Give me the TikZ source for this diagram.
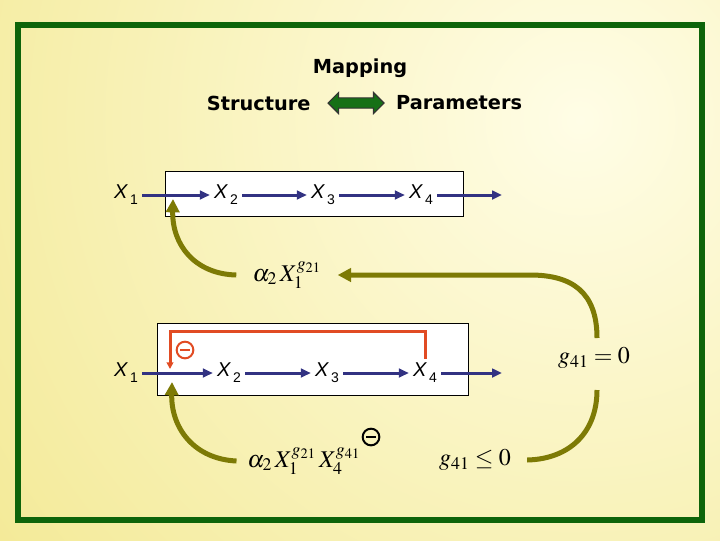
\documentclass[tikz,border=0pt]{standalone}
\usepackage{mathptmx}
\usepackage{fontspec}
\setmainfont{Liberation Serif}
\newfontfamily\headfont{DejaVu Sans}
\newfontfamily\varfont{Liberation Sans}
\usepackage{tikz}
\usetikzlibrary{arrows.meta}
\usetikzlibrary{shapes.arrows}
\usetikzlibrary{positioning}

\definecolor{bgyellow}{RGB}{243,233,148}
\definecolor{bgpale}{RGB}{255,253,230}
\definecolor{framegreen}{RGB}{14,100,10}
\definecolor{mapgreen}{RGB}{22,112,22}
\definecolor{flownavy}{RGB}{50,50,130}
\definecolor{fbolive}{RGB}{125,122,5}
\definecolor{negred}{RGB}{225,75,35}

\newcommand{\xvar}[1]{\textit{X}\kern1.5pt\raisebox{-0.3em}{\fontsize{10.5}{12}\selectfont #1}}

\begin{document}
\begin{tikzpicture}[x=0.75pt, y=-0.75pt,
    headtext/.style={font=\headfont\bfseries\fontsize{14.5}{17}\selectfont},
    varnode/.style={font=\varfont\fontsize{15}{17}\selectfont, inner sep=3pt},
    mlabel/.style={font=\fontsize{18}{20}\selectfont},
    negsign/.style={circle, draw=#1, line width=1.5pt, minimum size=12.5pt, inner sep=0pt,
        path picture={\draw[#1, line width=1.8pt]
            ([xshift=2.5pt]path picture bounding box.west) --
            ([xshift=-2.5pt]path picture bounding box.east);}},
    flow/.style={draw=flownavy, line width=2.25pt, -{Triangle[length=7.5pt,width=6.5pt]}},
    fb/.style={draw=fbolive, line width=3.75pt, -{Triangle[length=10pt,width=10pt]}},
    fbline/.style={draw=fbolive, line width=3.75pt},
    neg/.style={draw=negred, line width=2.25pt, -{Triangle[length=5pt,width=5pt]}}]
    % background and frame
    \useasboundingbox (0,0) rectangle (720,540);
    \begin{scope}
        \clip (0,0) rectangle (720,540);
        \fill[bgyellow] (0,0) rectangle (720,540);
        \shade[inner color=bgpale, outer color=bgyellow] (580,120) circle (760);
    \end{scope}
    \draw[framegreen, line width=4.5pt] (18,25) rectangle (702,520);

    % header
    \node (mp) [headtext] at (360,68) {Mapping};
    \node (map) [double arrow, fill=mapgreen, draw=black!80, line width=0.8pt,
        minimum height=42pt, inner sep=3.5pt, double arrow head extend=4pt] at (356,103) {};
    \node (st) [headtext, left=9pt of map] {Structure};
    \node (pa) [headtext, right=5pt of map] {Parameters};

    % boxes
    \draw[fill=white, line width=0.75pt] (165,171) rectangle (463,216);
    \draw[fill=white, line width=0.75pt] (157,323) rectangle (468,395);

    % upper chain
    \node (t1) [varnode] at (126,195) {\xvar{1}};
    \node (t2) [varnode] at (226,195) {\xvar{2}};
    \node (t3) [varnode] at (323,195) {\xvar{3}};
    \node (t4) [varnode] at (421,195) {\xvar{4}};
    \coordinate (tout) at (502,195);
    \coordinate (j1) at (173,199);
    \path
        (t1) edge [flow] (t2)
        (t2) edge [flow] (t3)
        (t3) edge [flow] (t4)
        (t4) edge [flow] (tout);

    % lower chain
    \node (b1) [varnode] at (126,373) {\xvar{1}};
    \node (b2) [varnode] at (229,373) {\xvar{2}};
    \node (b3) [varnode] at (327,373) {\xvar{3}};
    \node (b4) [varnode] at (425,373) {\xvar{4}};
    \coordinate (bout) at (502,373);
    \coordinate (j2) at (172,382);
    \coordinate (rj) at (170,369);
    \path
        (b1) edge [flow] (b2)
        (b2) edge [flow] (b3)
        (b3) edge [flow] (b4)
        (b4) edge [flow] (bout);
    \draw[neg] (b4.north) -- ++(0,-27) -| (rj);
    \node (n1) [negsign=negred] at (185,350) {};

    % rate laws and constraints
    \node (a1) [mlabel, inner xsep=12pt] at (287,275) {$\alpha_2\,X_1^{g_{21}}$};
    \node (a2) [mlabel, inner xsep=8pt] at (304,461) {$\alpha_2\,X_1^{g_{21}}\,X_4^{g_{41}}$};
    \node (n2) [negsign=black] at (371,437) {};
    \node (g0) [mlabel] at (594,358) {$g_{41}=0$};
    \node (le) [mlabel, inner xsep=12pt] at (475,460) {$g_{41}\leq 0$};
    \coordinate (g0top) at (597,338);
    \coordinate (g0bot) at (597,390);

    \draw[fb] (a1.west) .. controls (195,274) and (172,245) .. (j1);
    \draw[fb] (a2.west) .. controls (194,459) and (171,428) .. (j2);
    \draw[fb] (g0top) .. controls (597,292) and (572,275) .. (530,275) -- (a1.east);
    \draw[fbline] (g0bot) .. controls (597,432) and (570,459) .. (le.east);
\end{tikzpicture}
\end{document}
